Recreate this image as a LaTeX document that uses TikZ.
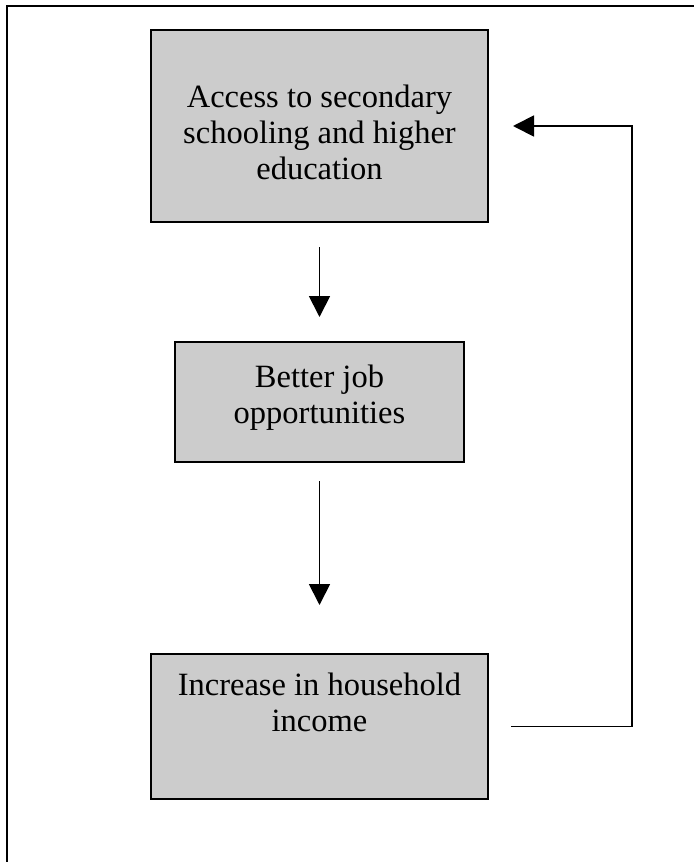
\documentclass[tikz,border=0pt]{standalone}
\usepackage{fontspec}
\setmainfont{Liberation Serif}
\usetikzlibrary{arrows.meta}
\definecolor{boxgray}{RGB}{204,204,204}

\begin{document}
\begin{tikzpicture}[x=1pt,y=-1pt,
  box/.style={draw,line width=2pt,fill=boxgray,inner sep=0pt,align=center,
    font=\fontsize{32.5pt}{36pt}\selectfont},
  flow/.style={line width=1.8pt,-{Triangle[length=21pt,width=21pt]}}]
  \useasboundingbox (0,0) rectangle (694,862);
  \draw [line width=2pt] (7,862) -- (7,6) -- (694,6);
  \node [box,minimum width=337pt,minimum height=192pt,text height=106pt,text depth=0pt] (access) at (319.5,126)
    {Access to secondary\\schooling and higher\\education};
  \node [box,minimum width=289pt,minimum height=120pt,text height=42pt,text depth=0pt] (jobs) at (319.5,402)
    {Better job\\opportunities};
  \node [box,minimum width=337pt,minimum height=145pt,text height=22pt,text depth=13pt] (income) at (319.5,726.5)
    {Increase in household\\income};
  \coordinate (turn) at (632,400);
  \draw [flow,shorten <=24pt,shorten >=24pt] (access) -- (jobs);
  \draw [flow,shorten <=18pt,shorten >=48pt] (jobs) -- (income);
  \draw [flow,shorten <=22pt,shorten >=24pt] (income.east) -| (turn) |- (access.east);
\end{tikzpicture}
\end{document}
